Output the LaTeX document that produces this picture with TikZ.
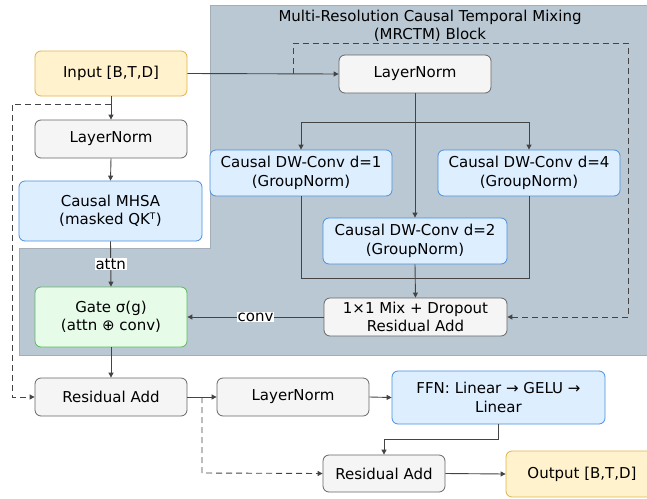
\documentclass[tikz,border=0pt]{standalone}
\usepackage{fontspec}
\setmainfont{DejaVu Sans}
\usetikzlibrary{arrows.meta}
\definecolor{panelfill}{HTML}{BAC8D3}
\definecolor{paneldraw}{HTML}{A3AEB8}
\definecolor{gfill}{HTML}{F5F5F5}
\definecolor{gdraw}{HTML}{666666}
\definecolor{bfill}{HTML}{DDEEFF}
\definecolor{bdraw}{HTML}{4A8FDC}
\definecolor{grfill}{HTML}{E6FCE8}
\definecolor{grdraw}{HTML}{5CB85C}
\definecolor{ofill}{HTML}{FFF2CC}
\definecolor{odraw}{HTML}{E0B24A}
\definecolor{lc}{HTML}{444444}
\begin{document}
\begin{tikzpicture}[x=1pt,y=-1pt,
  font=\fontsize{15}{18.5}\selectfont,
  base/.style={rounded corners=6pt, line width=0.8pt, align=center, inner sep=0pt},
  graybox/.style={base, fill=gfill, draw=gdraw},
  bluebox/.style={base, fill=bfill, draw=bdraw},
  greenbox/.style={base, fill=grfill, draw=grdraw},
  orangebox/.style={base, fill=ofill, draw=odraw},
  arr/.style={draw=lc, line width=0.9pt, -{Triangle[length=5pt,width=5pt]}},
  dasharr/.style={arr, dashed, dash pattern=on 6pt off 4pt},
  lbl/.style={fill=white, inner sep=1pt, text=black}
]
\useasboundingbox (0,0) rectangle (647,498);
% panel
\path[fill=panelfill, draw=paneldraw, line width=0.8pt]
  (210,5) -- (652,5) -- (652,355) -- (19,355) -- (19,248) -- (210,248) -- cycle;
\node (title1) at (430,17) {Multi-Resolution Causal Temporal Mixing};
\node (title2) at (430,35) {(MRCTM) Block};

% nodes
\node[orangebox, minimum width=152pt, minimum height=45pt] (input) at (111,73.5) {Input [B,T,D]};
\node[graybox, minimum width=152pt, minimum height=38pt] (ln1) at (111,139) {LayerNorm};
\node[bluebox, minimum width=183pt, minimum height=60pt] (mhsa) at (110.5,211) {Causal MHSA\\(masked QK\textsuperscript{\fontsize{9}{9}\selectfont T})};
\node[greenbox, minimum width=152pt, minimum height=60pt] (gate) at (111,317) {Gate σ(g)\\(attn ⊕ conv)};
\node[graybox, minimum width=152pt, minimum height=38pt] (res1) at (111,397) {Residual Add};
\node[graybox, minimum width=152pt, minimum height=38pt] (ln2) at (293,397) {LayerNorm};
\node[bluebox, minimum width=213pt, minimum height=53pt] (ffn) at (498.5,397.5) {FFN: Linear → GELU →\\Linear};
\node[graybox, minimum width=122pt, minimum height=37pt] (res2) at (384,473.5) {Residual Add};
\node[orangebox, minimum width=152pt, minimum height=46pt] (out) at (582,474) {Output [B,T,D]};
\node[graybox, minimum width=152pt, minimum height=38pt] (mrln) at (415,74) {LayerNorm};
\node[bluebox, minimum width=182pt, minimum height=46pt] (d1) at (301,173) {Causal DW-Conv d=1\\(GroupNorm)};
\node[bluebox, minimum width=182pt, minimum height=46pt] (d4) at (529,173) {Causal DW-Conv d=4\\(GroupNorm)};
\node[bluebox, minimum width=184pt, minimum height=46pt] (d2) at (415,241) {Causal DW-Conv d=2\\(GroupNorm)};
\node[graybox, minimum width=183pt, minimum height=38pt] (mix) at (415.5,317) {1×1 Mix + Dropout\\Residual Add};

% helper coordinates
\coordinate (split) at (415,122);
\coordinate (join) at (415,278);
\coordinate (tapA) at (293,73.5);
\coordinate (tapB) at (111,104);
\coordinate (tapC) at (202,397);

% connectors
\draw[arr] (input.east) -- (mrln.west);
\draw[arr] (input.south) -- (ln1.north);
\draw[arr] (ln1.south) -- (mhsa.north);
\draw[arr] (mhsa.south) -- node[lbl] {attn} (gate.north);
\draw[arr] (mix.west) -- node[lbl] {conv} (gate.east);
\draw[arr] (gate.south) -- (res1.north);
\draw[arr] (res1.east) -- (ln2.west);
\draw[arr] (ln2.east) -- (ffn.west);
\draw[arr] (ffn.south) |- (384,439) -- (res2.north);
\draw[arr] (res2.east) -- (out.west);

\draw[arr] (mrln.south) -- (d2.north);
\draw[arr] (split) -| (d1.north);
\draw[arr] (split) -| (d4.north);
\draw[draw=lc, line width=0.9pt] (d1.south) |- (join);
\draw[draw=lc, line width=0.9pt] (d4.south) |- (join);
\draw[arr] (d2.south) -- (mix.north);

\draw[dasharr] (tapA) -- (293,43) -- (628,43) -- (628,317) -- (mix.east);
\draw[dasharr] (tapB) -- (12,104) -- (12,397) -- (res1.west);
\draw[dasharr] (tapC) -- (202,473) -- (res2.west);
\end{tikzpicture}
\end{document}
